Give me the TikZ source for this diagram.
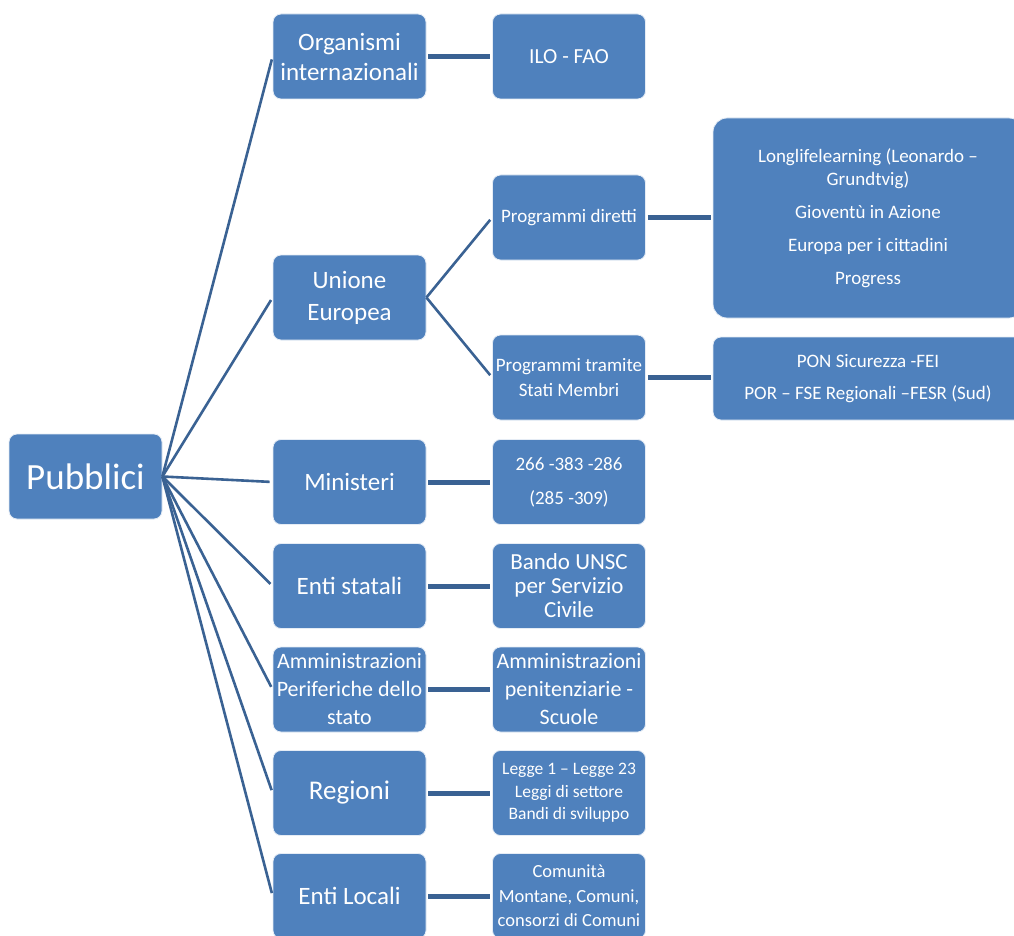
\documentclass[tikz,border=0pt]{standalone}
\usepackage{fontspec}
\setmainfont{Carlito}
\definecolor{boxblue}{HTML}{4F81BD}
\definecolor{linkblue}{HTML}{3A6293}
\newcommand{\fs}[2]{\fontsize{#1}{#2}\selectfont}
\begin{document}
\begin{tikzpicture}[x=1pt,y=-1pt,
  card/.style={draw=white!85!boxblue, line width=0.8pt, fill=boxblue, rounded corners=8pt,
    text=white, align=center, inner sep=0pt, minimum width=153pt, minimum height=85pt},
  branch/.style={draw=linkblue, line width=2.6pt, shorten >=3pt},
  link/.style={draw=linkblue, line width=5pt, shorten >=2pt, shorten <=2pt}]
\clip (0,0) rectangle (1014,936);
\fill[white] (0,0) rectangle (1014,936);

% root
\node[card, font=\fs{37}{40}] (root) at (85.5,476.5) {Pubblici};

% second column
\node[card, font=\fs{25}{30}] (org) at (349.5,56.5) {Organismi\\internazionali};
\node[card, font=\fs{25}{32}] (ue)  at (349.5,297.5) {Unione\\Europea};
\node[card, font=\fs{25}{30}] (min) at (349.5,482) {Ministeri};
\node[card, font=\fs{25}{30}] (es)  at (349.5,586) {Enti statali};
\node[card, font=\fs{22}{28}] (amm) at (349.5,689.5) {Amministrazioni\\Periferiche dello\\stato};
\node[card, font=\fs{27}{30}] (reg) at (349.5,793) {Regioni};
\node[card, font=\fs{25}{30}] (el)  at (349.5,896) {Enti Locali};

% third column
\node[card, font=\fs{21.5}{26}] (ilo) at (569,56.5) {ILO - FAO};
\node[card, font=\fs{19}{23}] (pd)  at (569,217.5) {Programmi diretti};
\node[card, font=\fs{19}{25}] (pt)  at (569,377.5) {Programmi tramite\\Stati Membri};
\node[card, font=\fs{19}{23}] (num) at (569,482) {266 -383 -286\\[11pt](285 -309)};
\node[card, font=\fs{23}{24}] (ban) at (569,586) {Bando UNSC\\per Servizio\\Civile};
\node[card, font=\fs{22}{28}] (pen) at (569,689.5) {Amministrazioni\\penitenziarie -\\Scuole};
\node[card, font=\fs{17.5}{22.5}] (leg) at (569,793) {Legge 1 – Legge 23\\Leggi di settore\\Bandi di sviluppo};
\node[card, font=\fs{18.5}{24.5}] (com) at (569,896) {Comunità\\Montane, Comuni,\\consorzi di Comuni};

% fourth column
\node[card, font=\fs{19}{23}, minimum width=310pt, minimum height=200pt, rounded corners=14pt] (ll) at (868,218)
  {Longlifelearning (Leonardo –\\Grundtvig)\\[10pt]Gioventù in Azione\\[10pt]Europa per i cittadini\\[10pt]Progress};
\node[card, font=\fs{19}{23}, minimum width=310pt, minimum height=83pt] (pon) at (868,378.5)
  {PON Sicurezza -FEI\\[9pt]POR – FSE Regionali –FESR (Sud)};

% branches from the root
\foreach \t in {org,ue,min,es,amm,reg,el}
  \draw[branch] (root.east) -- (\t.west);

% branches of the European Union
\draw[branch] (ue.east) -- (pd.west);
\draw[branch] (ue.east) -- (pt.west);

% straight links
\draw[link] (org.east) -- (ilo.west);
\draw[link] (min.east) -- (num.west);
\draw[link] (es.east) -- (ban.west);
\draw[link] (amm.east) -- (pen.west);
\draw[link] (reg.east) -- (leg.west);
\draw[link] (el.east) -- (com.west);
\draw[link] (pd.east) -- (pd.east -| ll.west);
\draw[link] (pt.east) -- (pt.east -| pon.west);
\end{tikzpicture}
\end{document}
